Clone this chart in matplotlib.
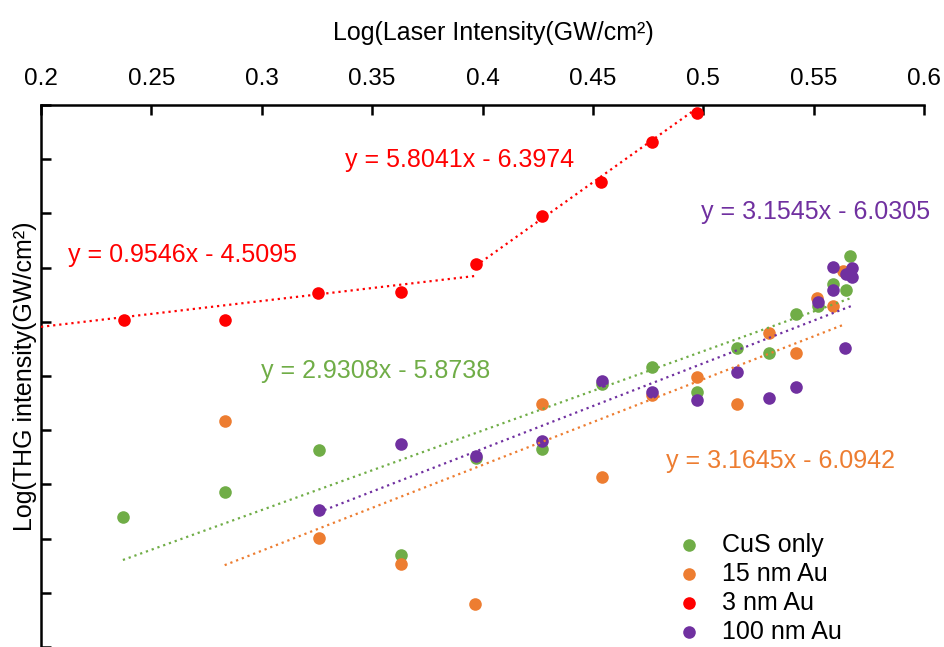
import numpy as np
import matplotlib
matplotlib.use('Agg')
import matplotlib.pyplot as plt

plt.rcParams['font.family'] = ['Liberation Sans', 'DejaVu Sans']

# log of laser intensity / log of THG intensity for each sample
cus_x = [0.2371, 0.2832, 0.3258, 0.3633, 0.3969, 0.4268, 0.4540, 0.4767,
         0.4973, 0.5152, 0.5298, 0.5422, 0.5519, 0.5590, 0.5646, 0.5665]
cus_y = [-5.020, -4.928, -4.773, -5.161, -4.801, -4.768, -4.529, -4.466,
         -4.560, -4.396, -4.415, -4.270, -4.240, -4.160, -4.181, -4.056]

au15_x = [0.2832, 0.3258, 0.3633, 0.3966, 0.4268, 0.4540, 0.4767, 0.4973,
          0.5152, 0.5298, 0.5422, 0.5515, 0.5590, 0.5635]
au15_y = [-4.666, -5.099, -5.192, -5.342, -4.605, -4.871, -4.571, -4.504,
          -4.605, -4.341, -4.415, -4.212, -4.243, -4.114]

au3_x = [0.2374, 0.2834, 0.3255, 0.3630, 0.3970, 0.4268, 0.4538, 0.4767, 0.4973]
au3_y = [-4.292, -4.292, -4.194, -4.189, -4.086, -3.911, -3.783, -3.636, -3.528]

au100_x = [0.3258, 0.3633, 0.3969, 0.4268, 0.4540, 0.4767, 0.4973, 0.5152,
           0.5298, 0.5422, 0.5522, 0.5590, 0.5590, 0.5643, 0.5647, 0.5673, 0.5673]
au100_y = [-4.994, -4.750, -4.795, -4.740, -4.520, -4.558, -4.587, -4.486,
           -4.583, -4.541, -4.228, -4.099, -4.181, -4.396, -4.124, -4.101, -4.135]

labels = ['CuS only', '15 nm Au', '3 nm Au', '100 nm Au']
colors = ['#70AD47', '#ED7D31', '#FF0000', '#7030A0']

# linear trendlines: slope, intercept
fit_cus = (2.9308, -5.8738)
fit_au15 = (3.1645, -6.0942)
fit_au3_low = (0.9546, -4.5095)
fit_au3_high = (5.8041, -6.3974)
fit_au100 = (3.1545, -6.0305)

xticks = [0.2, 0.25, 0.3, 0.35, 0.4, 0.45, 0.5, 0.55, 0.6]

fig = plt.figure(figsize=(9.44, 6.47), dpi=100)
ax = fig.add_axes([41 / 944, 0, 883 / 944, 542 / 647])

series = [(cus_x, cus_y), (au15_x, au15_y), (au3_x, au3_y), (au100_x, au100_y)]
for (xs, ys), lab, c in zip(series, labels, colors):
    ax.scatter(xs, ys, s=82, color=c, linewidths=0, label=lab, zorder=3)


def trend(fit, x0, x1, color):
    xx = np.array([x0, x1])
    ax.plot(xx, fit[0] * xx + fit[1], color=color, lw=1.6,
            linestyle=(0, (1, 1.75)), zorder=4)


trend(fit_cus, min(cus_x), max(cus_x), colors[0])
trend(fit_au15, min(au15_x), max(au15_x), colors[1])
trend(fit_au3_low, xticks[0], au3_x[4], colors[2])
trend(fit_au3_high, au3_x[4], max(au3_x), colors[2])
trend(fit_au100, min(au100_x), max(au100_x), colors[3])


def eq(fit):
    return f'y = {fit[0]:.4f}x - {-fit[1]:.4f}'


tkw = dict(fontsize=18, ha='center', va='center')
ax.text(0.3898, -3.703, eq(fit_au3_high), color=colors[2], **tkw)
ax.text(0.2642, -4.052, eq(fit_au3_low), color=colors[2], **tkw)
ax.text(0.3517, -4.480, eq(fit_cus), color=colors[0], **tkw)
ax.text(0.5511, -3.894, eq(fit_au100), color=colors[3], **tkw)
ax.text(0.5352, -4.814, eq(fit_au15), color=colors[1], **tkw)

ax.set_xlim(0.2, 0.6)
ax.set_ylim(-5.5, -3.5)
ax.set_xticks(xticks)
ax.set_xticklabels([f'{v:g}' for v in xticks])
ax.set_yticks(np.arange(-5.5, -3.49, 0.2))
ax.set_yticklabels([])

ax.xaxis.tick_top()
ax.xaxis.set_label_position('top')
ax.tick_params(axis='x', direction='in', length=7, width=1.8, pad=11,
               labelsize=17.5, colors='black')
ax.tick_params(axis='y', direction='in', length=7, width=1.8)
for side in ['right', 'bottom']:
    ax.spines[side].set_visible(False)
for side in ['top', 'left']:
    ax.spines[side].set_linewidth(1.8)

ax.set_xlabel('Log(Laser Intensity(GW/cm²)', fontsize=18)
ax.xaxis.set_label_coords(0.512, 1.12)
ax.set_ylabel('Log(THG intensity(GW/cm²)', fontsize=18)
ax.yaxis.set_label_coords(-0.005, 0.5)

ax.legend(loc='upper left', bbox_to_anchor=(676 / 944, 1 - 533 / 647),
          bbox_transform=fig.transFigure, frameon=False, fontsize=18,
          handlelength=1.0, handletextpad=0.85, labelspacing=0.2,
          borderpad=0, borderaxespad=0, scatterpoints=1)

fig.savefig('out.png', dpi=100)
